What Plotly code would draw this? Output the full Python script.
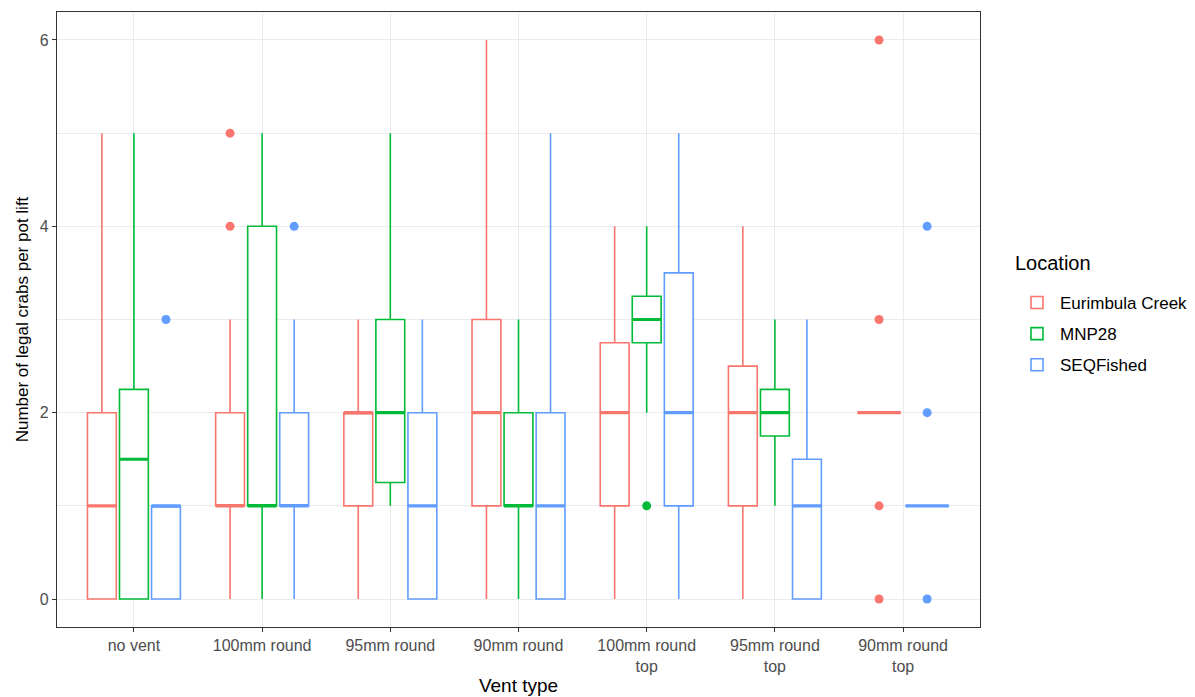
import plotly.graph_objects as go

categories = ["no vent", "100mm round", "95mm round", "90mm round",
              "100mm round top", "95mm round top", "90mm round top"]
tick_labels = ["no vent", "100mm round", "95mm round", "90mm round",
               "100mm round<br>top", "95mm round<br>top", "90mm round<br>top"]
locations = ["Eurimbula Creek", "MNP28", "SEQFished"]
colors = ["#F8766D", "#00BA38", "#619CFF"]

# Eurimbula Creek (all 7 vent types)
eur_low = [0, 0, 0, 0, 0, 0, 2]
eur_q1 = [0, 1, 1, 1, 1, 1, 2]
eur_med = [1, 1, 2, 2, 2, 2, 2]
eur_q3 = [2, 2, 2, 3, 2.75, 2.5, 2]
eur_high = [5, 3, 3, 6, 4, 4, 2]
eur_out_x = ["100mm round", "100mm round", "90mm round top", "90mm round top",
             "90mm round top", "90mm round top"]
eur_out_y = [4, 5, 0, 1, 3, 6]

# MNP28 (first 6 vent types)
mnp_low = [0, 0, 1, 0, 2, 1]
mnp_q1 = [0, 1, 1.25, 1, 2.75, 1.75]
mnp_med = [1.5, 1, 2, 1, 3, 2]
mnp_q3 = [2.25, 4, 3, 2, 3.25, 2.25]
mnp_high = [5, 5, 5, 3, 4, 3]
mnp_out_x = ["100mm round top"]
mnp_out_y = [1]

# SEQFished (all 7 vent types)
seq_low = [0, 0, 0, 0, 0, 0, 1]
seq_q1 = [0, 1, 0, 0, 1, 0, 1]
seq_med = [1, 1, 1, 1, 2, 1, 1]
seq_q3 = [1, 2, 2, 2, 3.5, 1.5, 1]
seq_high = [1, 3, 3, 5, 5, 3, 1]
seq_out_x = ["no vent", "100mm round", "90mm round top", "90mm round top", "90mm round top"]
seq_out_y = [3, 4, 0, 2, 4]

series = [
    (eur_low, eur_q1, eur_med, eur_q3, eur_high, eur_out_x, eur_out_y),
    (mnp_low, mnp_q1, mnp_med, mnp_q3, mnp_high, mnp_out_x, mnp_out_y),
    (seq_low, seq_q1, seq_med, seq_q3, seq_high, seq_out_x, seq_out_y),
]

LAST = categories[-1]
BOX_LW = 1.6
MED_LW = 3.2

fig = go.Figure()
for i, (lo, q1, md, q3, hi, ox, oy) in enumerate(series):
    name = locations[i]
    col = colors[i]
    cats = categories[:len(md)]
    for grp in ["main", "last"]:
        idx = [k for k, c in enumerate(cats) if (c == LAST) == (grp == "last")]
        if not idx:
            continue
        xs = [cats[k] for k in idx]
        og = f"{grp}_{i}"
        fig.add_trace(go.Box(
            x=xs, q1=[q1[k] for k in idx], median=[md[k] for k in idx],
            q3=[q3[k] for k in idx], lowerfence=[lo[k] for k in idx],
            upperfence=[hi[k] for k in idx],
            name=name, legendgroup=name, showlegend=(grp == "main"),
            line=dict(color=col, width=BOX_LW), fillcolor="white",
            whiskerwidth=0, boxpoints=False,
            alignmentgroup=grp, offsetgroup=og,
        ))
        # thicker median line (ggplot fatten)
        mvals = [md[k] for k in idx]
        fig.add_trace(go.Box(
            x=xs, q1=mvals, median=mvals, q3=mvals, lowerfence=mvals, upperfence=mvals,
            name=name, legendgroup=name, showlegend=False,
            line=dict(color=col, width=MED_LW), fillcolor="rgba(0,0,0,0)",
            whiskerwidth=0, boxpoints=False, hoverinfo="skip",
            alignmentgroup=grp, offsetgroup=og,
        ))
        # outliers
        pts = [(x, y) for x, y in zip(ox, oy) if (x == LAST) == (grp == "last")]
        if pts:
            fig.add_trace(go.Box(
                x=[p[0] for p in pts], y=[p[1] for p in pts],
                name=name, legendgroup=name, showlegend=False,
                boxpoints="all", jitter=0, pointpos=0,
                marker=dict(color=col, size=9),
                line=dict(color="rgba(0,0,0,0)", width=0), fillcolor="rgba(0,0,0,0)",
                whiskerwidth=0,
                alignmentgroup=grp, offsetgroup=og,
            ))

font_family = "Liberation Sans, Arial, sans-serif"
fig.update_layout(
    width=1195, height=697,
    margin=dict(l=57, r=215, t=12, b=70, autoexpand=False),
    paper_bgcolor="white", plot_bgcolor="white",
    boxmode="group", boxgap=0.25, boxgroupgap=0.1,
    font=dict(family=font_family, color="black"),
    legend=dict(
        font=dict(size=17, color="black"),
        xref="container", yref="container",
        x=1014 / 1195, xanchor="left", y=1 - 285 / 697, yanchor="top",
        traceorder="grouped", tracegroupgap=6, itemwidth=36,
        bgcolor="rgba(0,0,0,0)",
    ),
    annotations=[dict(
        text="Location", xref="paper", yref="paper",
        x=(1013 - 57) / 923, y=(627 - 263) / 615, xanchor="left", yanchor="middle",
        showarrow=False, font=dict(size=20, color="black"),
    )],
    xaxis=dict(
        type="category", categoryorder="array", categoryarray=categories,
        tickvals=categories, ticktext=tick_labels,
        range=[-0.6, 6.6], automargin=False,
        showgrid=True, gridcolor="#EBEBEB", gridwidth=1.3,
        ticks="outside", ticklen=4, tickcolor="#333333", tickwidth=1.3,
        tickfont=dict(size=16, color="#4D4D4D"),
        title=dict(text="Vent type", font=dict(size=19, color="black"), standoff=4),
        showline=True, linecolor="#333333", linewidth=1.3, mirror=True,
        zeroline=False,
    ),
    yaxis=dict(
        range=[-0.3, 6.3], automargin=False,
        tickvals=[0, 2, 4, 6],
        showgrid=True, gridcolor="#EBEBEB", gridwidth=1.3,
        minor=dict(tickvals=[1, 3, 5], showgrid=True, gridcolor="#EBEBEB", gridwidth=0.7, ticks=""),
        ticks="outside", ticklen=4, tickcolor="#333333", tickwidth=1.3,
        tickfont=dict(size=16, color="#4D4D4D"),
        title=dict(text="Number of legal crabs per pot lift", font=dict(size=17, color="black"), standoff=6),
        showline=True, linecolor="#333333", linewidth=1.3, mirror=True,
        zeroline=False,
    ),
)

fig.write_html("out.html")
